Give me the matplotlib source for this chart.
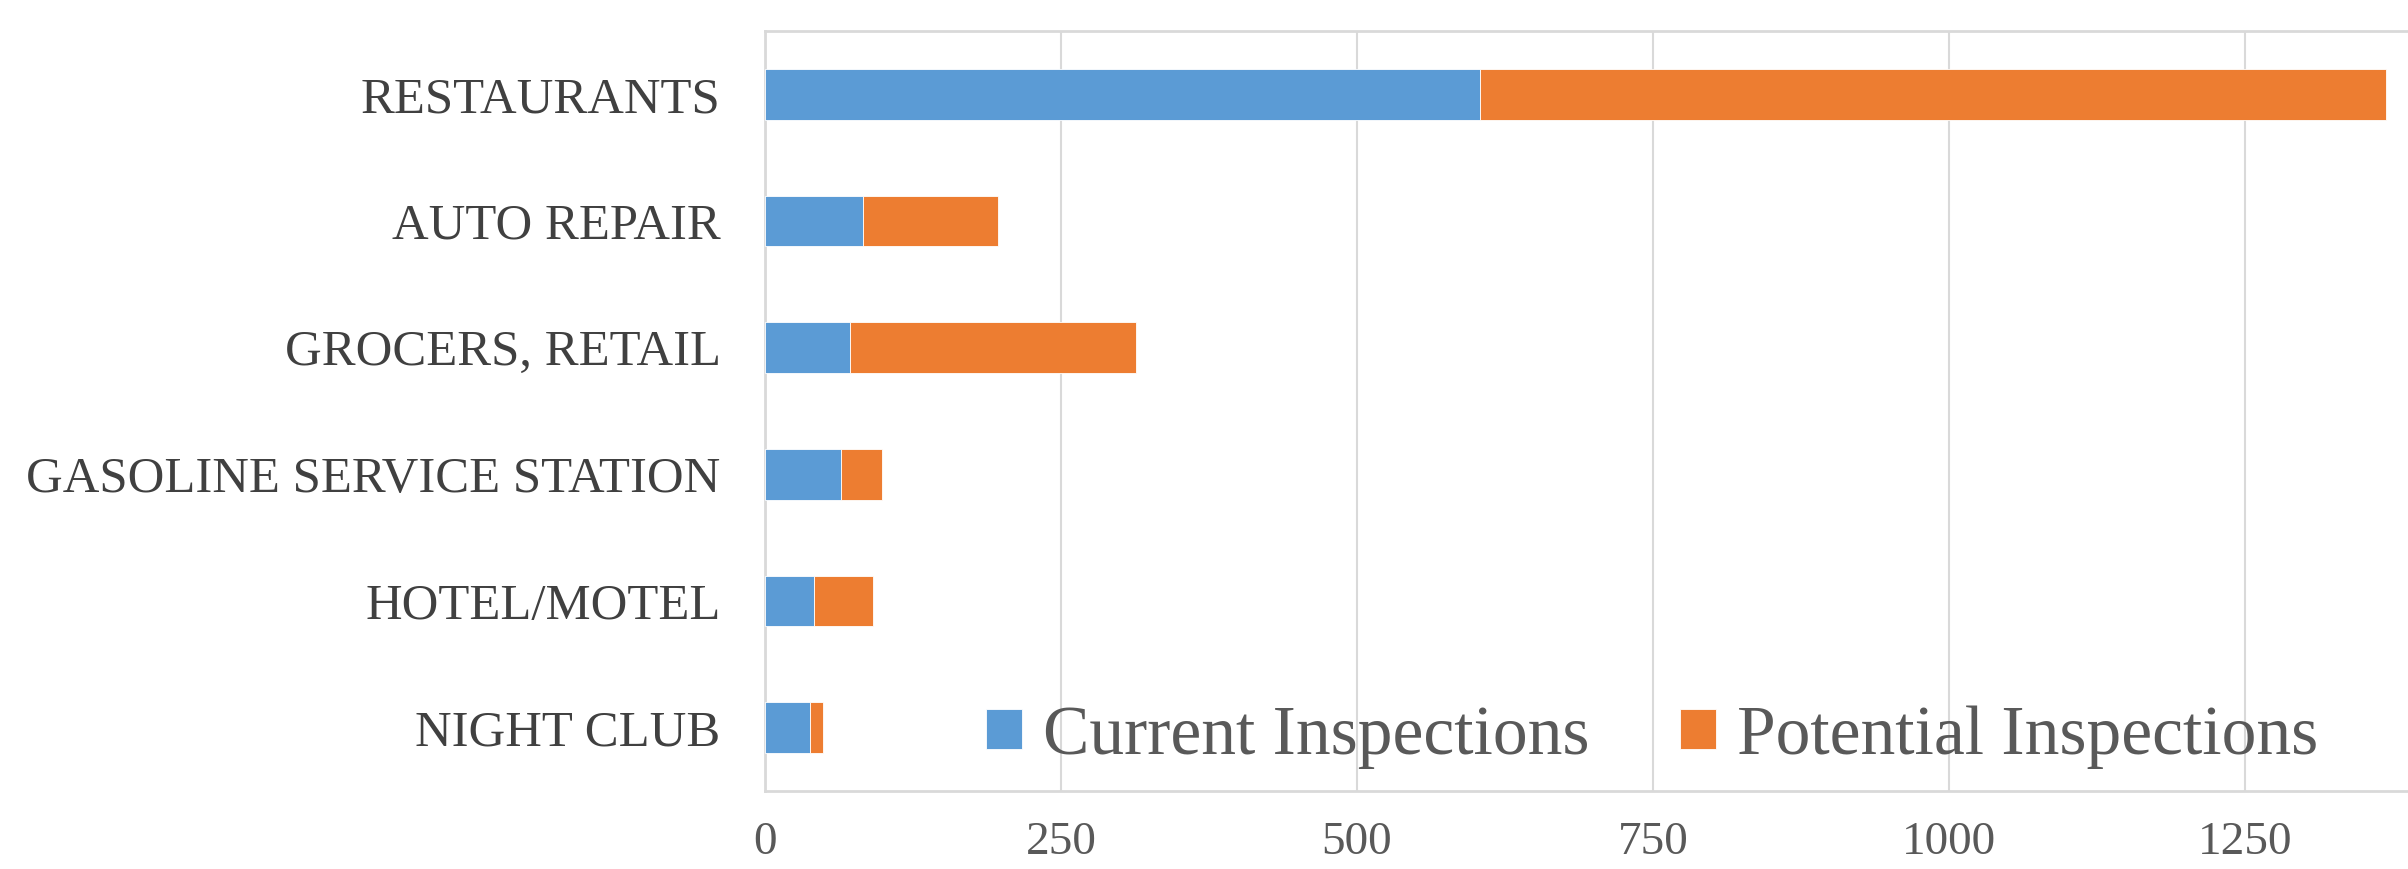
import matplotlib
matplotlib.use("Agg")
import matplotlib.pyplot as plt

categories = ["RESTAURANTS", "AUTO REPAIR", "GROCERS, RETAIL",
              "GASOLINE SERVICE STATION", "HOTEL/MOTEL", "NIGHT CLUB"]
current = [604, 83, 72, 64, 41, 38]
potential = [765, 114, 241, 35, 50, 11]
xticks = [0, 250, 500, 750, 1000, 1250]

blue = "#5B9BD5"
orange = "#ED7D31"
grid = "#D9D9D9"

plt.rcParams['font.family'] = ['Liberation Serif', 'DejaVu Serif']

W, H = 2408, 869
fig = plt.figure(figsize=(W/100, H/100), dpi=100)
ax_top, ax_bot, ax_left = 31, 791, 765
ax = fig.add_axes([ax_left/W, 1-ax_bot/H, 1-ax_left/W, (ax_bot-ax_top)/H])

y = list(range(len(categories)))
ax.barh(y, current, height=0.40, color=blue, edgecolor="white", linewidth=0.6,
        label="Current Inspections", zorder=3)
ax.barh(y, potential, left=current, height=0.40, color=orange, edgecolor="white",
        linewidth=0.6, label="Potential Inspections", zorder=3)

ax.set_ylim(5.5, -0.5)
ax.set_xlim(0, 1388)
ax.set_yticks(y)
ax.set_yticklabels(categories, fontsize=36.5, color="#404040")
ax.set_xticks(xticks)
ax.set_xticklabels([str(t) for t in xticks], fontsize=34, color="#595959")
ax.tick_params(axis='both', length=0)
ax.tick_params(axis='y', pad=32)
ax.tick_params(axis='x', pad=22)
ax.xaxis.grid(True, color=grid, linewidth=1.5, zorder=0)
ax.set_axisbelow(True)
for s in ["left", "top", "bottom"]:
    ax.spines[s].set_color(grid)
    ax.spines[s].set_linewidth(2)
ax.spines["right"].set_visible(False)

leg = ax.legend(loc="center", bbox_to_anchor=(1652/W, 1-737/H),
                bbox_transform=fig.transFigure, ncol=2, frameon=False,
                fontsize=50, handlelength=0.52, handleheight=0.52,
                handletextpad=0.3, columnspacing=1.3, labelcolor="#595959",
                borderpad=0, borderaxespad=0)

fig.savefig("out.png", dpi=100)
